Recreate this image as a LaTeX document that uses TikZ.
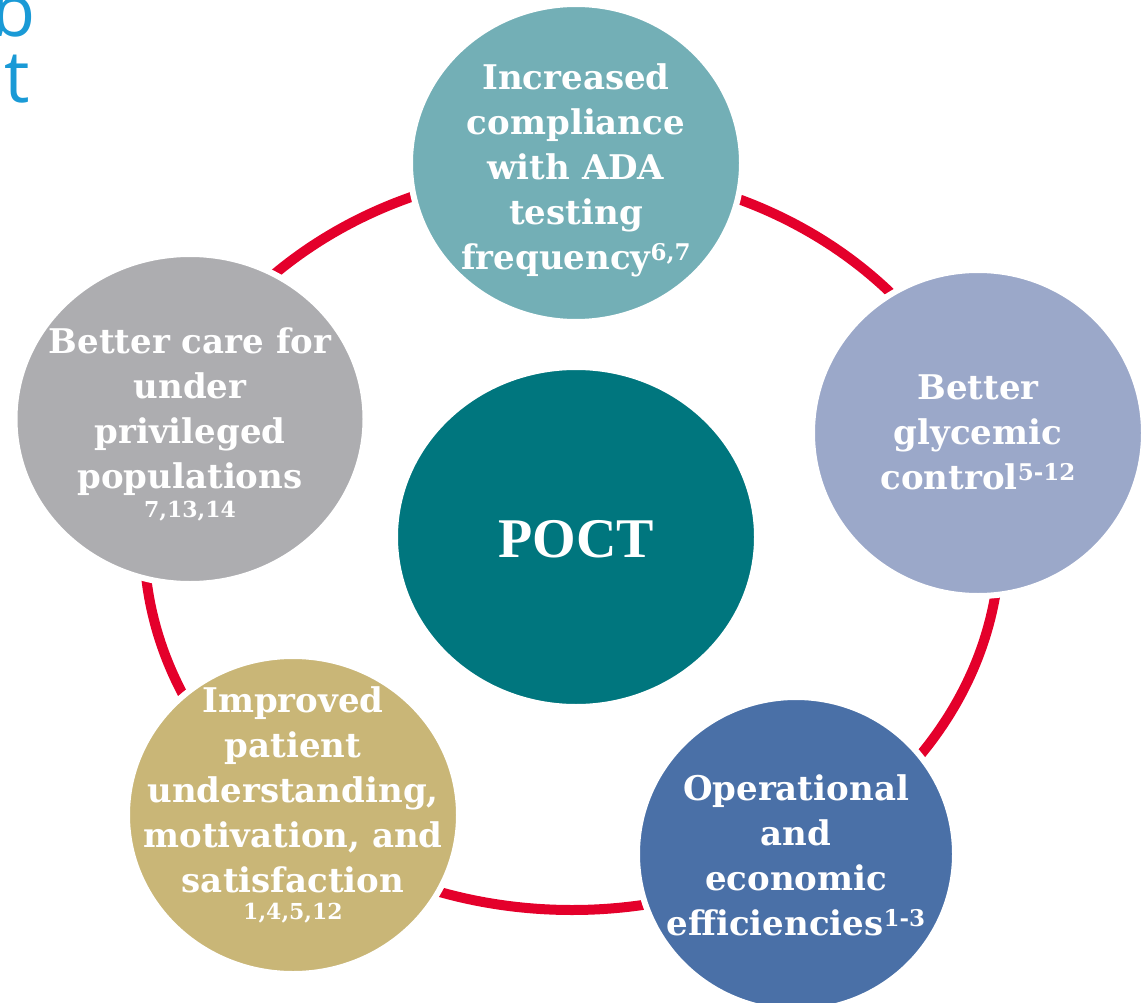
\documentclass[tikz,border=0pt]{standalone}
\usepackage{fontspec}
\usetikzlibrary{shapes.geometric}
\setmainfont{DejaVu Serif}
\newfontfamily\bubblefont{DejaVu Serif Bold}
\newfontfamily\centrefont{Liberation Serif Bold}
\newfontfamily\titlefont{Open Sans}
\definecolor{ringred}{HTML}{E4002B}
\definecolor{cTop}{HTML}{73AFB6}
\definecolor{cRight}{HTML}{9BA8C9}
\definecolor{cLeft}{HTML}{ADADB0}
\definecolor{cMid}{HTML}{00767E}
\definecolor{cLowL}{HTML}{C9B677}
\definecolor{cLowR}{HTML}{4A70A7}
\definecolor{titleblue}{HTML}{1A9AD6}
\newcommand\refsup[1]{\raisebox{9pt}{\fontsize{23}{23}\selectfont #1}}
\tikzset{
  bubble/.style={ellipse, inner sep=0pt, draw=white, line width=6pt},
  bubbletext/.style={text=white, align=center, inner sep=0pt,
    font=\bubblefont\fontsize{34}{45}\selectfont},
  reftext/.style={text=white, inner sep=0pt, anchor=base,
    font=\bubblefont\fontsize{22}{22}\selectfont},
  headtext/.style={anchor=base west, inner sep=0pt, text=titleblue,
    font=\titlefont\fontsize{72}{72}\selectfont},
  ring/.style={draw=ringred, line width=10pt},
}
\begin{document}
\begin{tikzpicture}[x=1pt, y=-1pt]
\useasboundingbox (0,0) rectangle (1143,1003);
% heading fragments at the left edge
\node[headtext] (headA) at (-9,37) {b};
\node[headtext] (headB) at (4,103) {t};
% the ring behind the bubbles
\draw[ring] (572,540) ellipse [x radius=428, y radius=370];
% bubbles
\node[bubble, fill=cTop, minimum width=332pt, minimum height=318pt] (top) at (576,163) {};
\node[bubble, fill=cRight, minimum width=332pt, minimum height=326pt] (right) at (978,433) {};
\node[bubble, fill=cLeft, minimum width=351pt, minimum height=330pt] (left) at (190,419) {};
\node[bubble, fill=cMid, minimum width=362pt, minimum height=340pt] (mid) at (576,537) {};
\node[bubble, fill=cLowL, minimum width=332pt, minimum height=318pt] (lowL) at (293,815) {};
\node[bubble, fill=cLowR, minimum width=318pt, minimum height=314pt] (lowR) at (796,854) {};
% labels
\node[bubbletext] (topT) at ([yshift=-7pt]top.center) {Increased\\compliance\\with ADA\\testing\\frequency\refsup{6,7}};
\node[bubbletext] (rightT) at ([yshift=1pt]right.center) {Better\\glycemic\\control\refsup{5-12}};
\node[bubbletext] (leftT) at ([yshift=7pt]left.center) {Better care for\\under\\privileged\\populations};
\node[reftext] (leftR) at (190,517) {7,13,14};
\node[text=white, inner sep=0pt, font=\centrefont\fontsize{56}{56}\selectfont] (midT) at ([yshift=-2pt]mid.center) {POCT};
\node[bubbletext] (lowLT) at ([yshift=25pt]lowL.center) {Improved\\patient\\understanding,\\motivation, and\\satisfaction};
\node[reftext] (lowLR) at (293,919) {1,4,5,12};
\node[bubbletext] (lowRT) at ([yshift=-1pt]lowR.center) {Operational\\and\\economic\\efficiencies\refsup{1-3}};
\end{tikzpicture}
\end{document}
